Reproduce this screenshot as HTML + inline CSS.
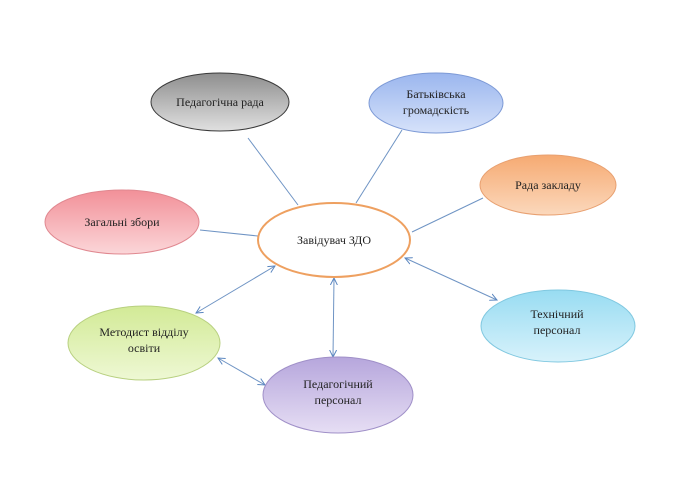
<!DOCTYPE html>
<html><head><meta charset="utf-8"><style>body{margin:0;background:#fff}</style></head><body>
<svg width="681" height="482" viewBox="0 0 681 482" xmlns="http://www.w3.org/2000/svg" font-family="Liberation Serif, serif" font-size="12" fill="#222">
<defs>
<linearGradient id="g1" x1="0" y1="0" x2="0" y2="1"><stop offset="0" stop-color="#8e8e8e"/><stop offset="1" stop-color="#e0e0e0"/></linearGradient>
<linearGradient id="g2" x1="0" y1="0" x2="0" y2="1"><stop offset="0" stop-color="#9bb6ee"/><stop offset="1" stop-color="#d6e2fa"/></linearGradient>
<linearGradient id="g3" x1="0" y1="0" x2="0" y2="1"><stop offset="0" stop-color="#f6aa72"/><stop offset="1" stop-color="#fbd8bc"/></linearGradient>
<linearGradient id="g4" x1="0" y1="0" x2="0" y2="1"><stop offset="0" stop-color="#f29098"/><stop offset="1" stop-color="#fbd6d8"/></linearGradient>
<linearGradient id="g5" x1="0" y1="0" x2="0" y2="1"><stop offset="0" stop-color="#d2ea96"/><stop offset="1" stop-color="#eef8d4"/></linearGradient>
<linearGradient id="g6" x1="0" y1="0" x2="0" y2="1"><stop offset="0" stop-color="#b6a6dc"/><stop offset="1" stop-color="#e6def4"/></linearGradient>
<linearGradient id="g7" x1="0" y1="0" x2="0" y2="1"><stop offset="0" stop-color="#98dcf2"/><stop offset="1" stop-color="#d8f2fb"/></linearGradient>
<marker id="a" markerWidth="8" markerHeight="8" refX="7" refY="4" orient="auto-start-reverse" markerUnits="userSpaceOnUse"><path d="M0,0.5 L7,4 L0,7.5" fill="none" stroke="#5a86c0" stroke-width="1"/></marker>
</defs>
<g stroke="#6f94c4" stroke-width="1" fill="none">
<line x1="248" y1="138" x2="298" y2="205"/>
<line x1="402" y1="130" x2="356" y2="203"/>
<line x1="483" y1="198" x2="412" y2="232"/>
<line x1="200" y1="230" x2="258" y2="236"/>
<line x1="275" y1="266" x2="196" y2="313" marker-start="url(#a)" marker-end="url(#a)"/>
<line x1="334" y1="278" x2="333" y2="357" marker-start="url(#a)" marker-end="url(#a)"/>
<line x1="405" y1="258" x2="497" y2="300" marker-start="url(#a)" marker-end="url(#a)"/>
<line x1="218" y1="358" x2="265" y2="385" marker-start="url(#a)" marker-end="url(#a)"/>
</g>
<ellipse cx="220" cy="102" rx="69" ry="29" fill="url(#g1)" stroke="#3a3a3a"/>
<ellipse cx="436" cy="103" rx="67" ry="30" fill="url(#g2)" stroke="#7d9ad6"/>
<ellipse cx="548" cy="185" rx="68" ry="30" fill="url(#g3)" stroke="#e8a070"/>
<ellipse cx="122" cy="222" rx="77" ry="32" fill="url(#g4)" stroke="#e08890"/>
<ellipse cx="334" cy="240" rx="76" ry="37" fill="#fff" stroke="#eea060" stroke-width="2"/>
<ellipse cx="144" cy="343" rx="76" ry="37" fill="url(#g5)" stroke="#b8d080"/>
<ellipse cx="338" cy="395" rx="75" ry="38" fill="url(#g6)" stroke="#a090c8"/>
<ellipse cx="558" cy="326" rx="77" ry="36" fill="url(#g7)" stroke="#80c8e0"/>
<g text-anchor="middle">
<text x="220" y="106">Педагогічна рада</text>
<text x="436" y="98">Батьківська</text><text x="436" y="114">громадскість</text>
<text x="548" y="189">Рада закладу</text>
<text x="122" y="226">Загальні збори</text>
<text x="334" y="244">Завідувач ЗДО</text>
<text x="144" y="336">Методист відділу</text><text x="144" y="352">освіти</text>
<text x="338" y="388">Педагогічний</text><text x="338" y="404">персонал</text>
<text x="557" y="318">Технічний</text><text x="557" y="334">персонал</text>
</g>
</svg>
</body></html>
